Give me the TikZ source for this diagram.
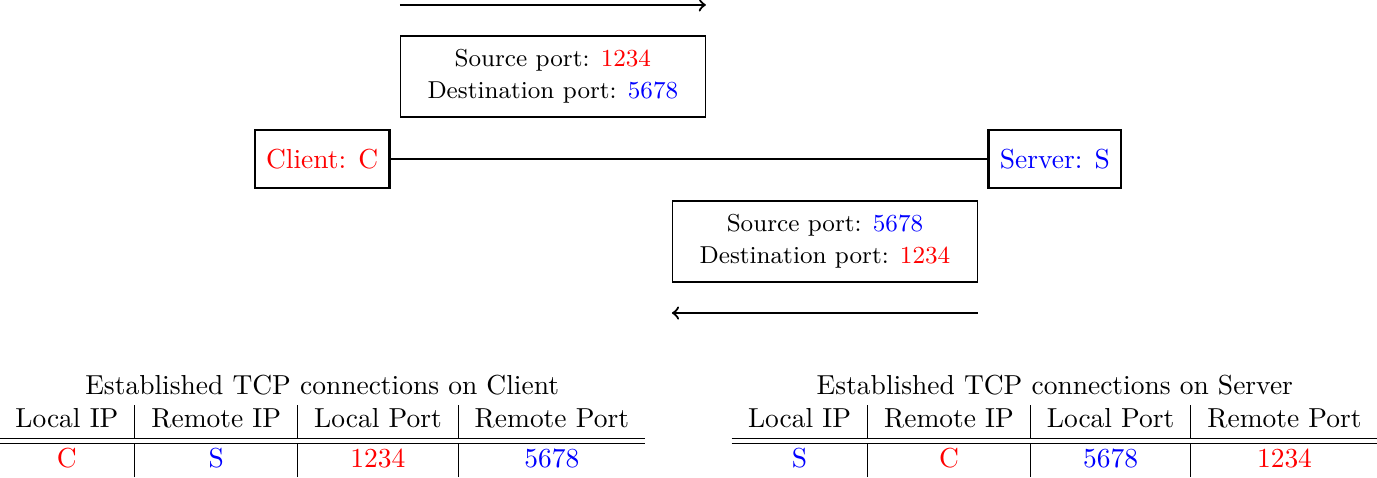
\documentclass[tikz,border=0pt]{standalone}
\usepackage[x11names]{xcolor}
\usepackage{amsmath}
\usepackage{tikz}
\usetikzlibrary{positioning}

\tikzset{
  host/.style={draw, thick, minimum height=0.74cm, inner xsep=4.1pt},
  segment/.style={draw, minimum width=3.9cm, minimum height=1.036cm, align=center, font=\fontsize{8.9}{11.5}\selectfont},
  flow/.style={->, thick}
}

\begin{document}
\begin{tikzpicture}
               \useasboundingbox (0,0) rectangle (17.61,-6.11);
               \node[host, text=red] (client) at (4.12,-2.033) {Client: C};
               \node[host, text=blue] (server) at (13.49,-2.033) {Server: S};
               \draw (client) -- (server);
               \node[segment] (seg1) at (7.07,-0.978) {Source port: \textcolor{red}{1234}\\ Destination port: \textcolor{blue}{5678}};
               \node[segment] (seg2) at (10.55,-3.088) {Source port: \textcolor{blue}{5678}\\ Destination port: \textcolor{red}{1234}};
               \coordinate[above=0.39cm of seg1.north west] (go1);
               \coordinate[above=0.39cm of seg1.north east] (go2);
               \coordinate[below=0.39cm of seg2.south east] (back1);
               \coordinate[below=0.39cm of seg2.south west] (back2);
               \draw[flow] (go1) -- (go2);
               \draw[flow] (back1) -- (back2);
               % connection tables
               \node[anchor=south, inner sep=0pt] (tabclient) at (4.12,-6.11) {\begin{tabular}{c|c|c|c}
                   \multicolumn{4}{c}{Established TCP connections on Client}\\
                   Local IP & Remote IP & Local Port & Remote Port\\ \hline\hline
                   \textcolor{red}{C} & \textcolor{blue}{S} & \textcolor{red}{1234} & \textcolor{blue}{5678}
               \end{tabular}};
               \node[anchor=south, inner sep=0pt] (tabserver) at (13.49,-6.11) {\begin{tabular}{c|c|c|c}
                   \multicolumn{4}{c}{Established TCP connections on Server}\\
                   Local IP & Remote IP & Local Port & Remote Port\\ \hline\hline
                   \textcolor{blue}{S} & \textcolor{red}{C} & \textcolor{blue}{5678} & \textcolor{red}{1234}
               \end{tabular}};
\end{tikzpicture}
\end{document}
